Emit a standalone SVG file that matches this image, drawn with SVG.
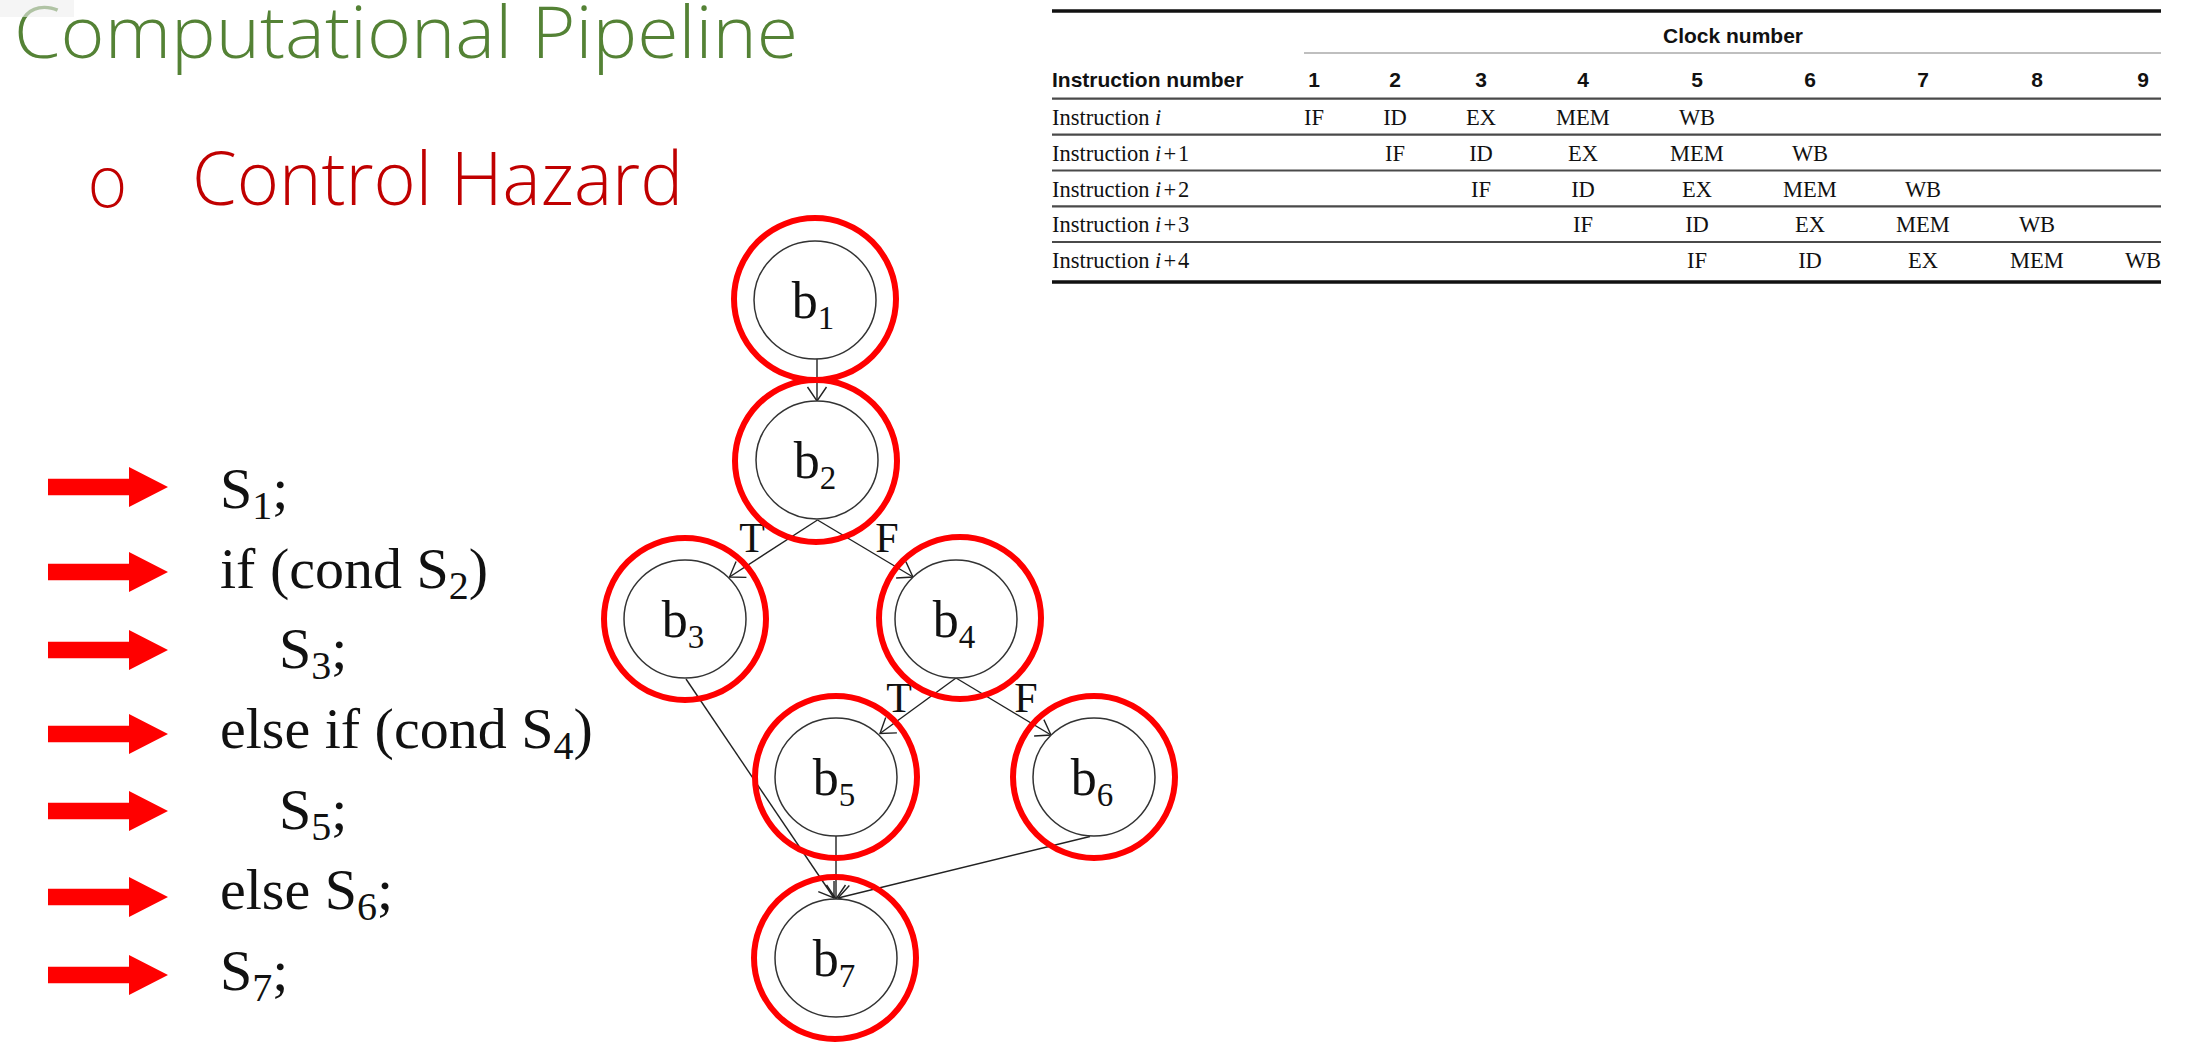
<svg xmlns="http://www.w3.org/2000/svg" width="2196" height="1051" viewBox="0 0 2196 1051">
<style>
.title{font-family:"Open Sans","Liberation Sans",sans-serif;font-weight:300;}
.th{font-family:"Liberation Sans",Arial,sans-serif;font-weight:bold;font-size:21px;fill:#111;}
.td{font-family:"Liberation Serif","Times New Roman",serif;font-size:22.5px;fill:#111;}
.tdc{font-family:"Liberation Serif","Times New Roman",serif;font-size:22.5px;fill:#111;text-anchor:middle;}
.code{font-family:"Liberation Serif","Times New Roman",serif;font-size:58px;fill:#111;}
.sub{font-size:40px;}
.gray{fill:#fff;stroke:#333;stroke-width:1.5;}
.red{fill:none;stroke:#ff0000;stroke-width:6;}
.blab{font-family:"Liberation Serif","Times New Roman",serif;font-size:52px;fill:#111;text-anchor:middle;}
.bsub{font-size:33px;}
.elab{font-family:"Liberation Serif","Times New Roman",serif;font-size:42px;fill:#111;text-anchor:middle;}
.edge{stroke:#222;stroke-width:1.4;fill:none;marker-end:url(#vh);}
.tl{stroke:#4a4a4a;stroke-width:2.2;}
.tk{stroke:#111;stroke-width:3.5;}
</style>
<defs>
<marker id="vh" markerUnits="userSpaceOnUse" markerWidth="17" markerHeight="24" viewBox="0 0 17 24" refX="15" refY="12" orient="auto">
<path d="M1,2.5 L15,12 L1,21.5" fill="none" stroke="#222" stroke-width="1.4"/>
</marker>
<path id="rarrow" d="M48,-8.3 L129,-8.3 L129,-20 L168,0 L129,20 L129,8.3 L48,8.3 Z" fill="#ff0000"/>
</defs>
<rect width="2196" height="1051" fill="#fff"/>

<g id="title">
<text class="title" x="14" y="58" font-size="72" fill="#548235" textLength="784" lengthAdjust="spacingAndGlyphs">Computational Pipeline</text>
<rect x="0" y="0" width="74" height="17" fill="#eeeeee" fill-opacity="0.6"/>
</g>
<g id="subtitle">
<text x="86" y="207" font-family="DejaVu Sans, sans-serif" font-weight="200" font-size="70" fill="#c00000">o</text>
<text class="title" x="192" y="205" font-size="74" fill="#c00000" textLength="491" lengthAdjust="spacingAndGlyphs">Control Hazard</text>
</g>

<g id="table">
<line class="tk" x1="1052" y1="11" x2="2161" y2="11"/>
<text class="th" x="1733" y="43" text-anchor="middle">Clock number</text>
<line x1="1304" y1="53" x2="2161" y2="53" stroke="#aaaaaa" stroke-width="1.5"/>
<text class="th" x="1052" y="87">Instruction number</text>
<g class="th" text-anchor="middle">
<text x="1314" y="87">1</text><text x="1395" y="87">2</text><text x="1481" y="87">3</text><text x="1583" y="87">4</text><text x="1697" y="87">5</text><text x="1810" y="87">6</text><text x="1923" y="87">7</text><text x="2037" y="87">8</text><text x="2143" y="87">9</text>
</g>
<line class="tl" x1="1052" y1="98.7" x2="2161" y2="98.7"/>
<line class="tl" x1="1052" y1="134.7" x2="2161" y2="134.7"/>
<line class="tl" x1="1052" y1="170.5" x2="2161" y2="170.5"/>
<line class="tl" x1="1052" y1="206.3" x2="2161" y2="206.3"/>
<line class="tl" x1="1052" y1="242" x2="2161" y2="242"/>
<line class="tk" x1="1052" y1="282" x2="2161" y2="282"/>
<text class="td" x="1052" y="125">Instruction <tspan font-style="italic">i</tspan></text>
<text class="td" x="1052" y="161">Instruction <tspan font-style="italic">i</tspan><tspan dx="2">+</tspan><tspan dx="2">1</tspan></text>
<text class="td" x="1052" y="197">Instruction <tspan font-style="italic">i</tspan><tspan dx="2">+</tspan><tspan dx="2">2</tspan></text>
<text class="td" x="1052" y="232">Instruction <tspan font-style="italic">i</tspan><tspan dx="2">+</tspan><tspan dx="2">3</tspan></text>
<text class="td" x="1052" y="268">Instruction <tspan font-style="italic">i</tspan><tspan dx="2">+</tspan><tspan dx="2">4</tspan></text>
<g class="tdc">
<text x="1314" y="125">IF</text><text x="1395" y="125">ID</text><text x="1481" y="125">EX</text><text x="1583" y="125">MEM</text><text x="1697" y="125">WB</text>
<text x="1395" y="161">IF</text><text x="1481" y="161">ID</text><text x="1583" y="161">EX</text><text x="1697" y="161">MEM</text><text x="1810" y="161">WB</text>
<text x="1481" y="197">IF</text><text x="1583" y="197">ID</text><text x="1697" y="197">EX</text><text x="1810" y="197">MEM</text><text x="1923" y="197">WB</text>
<text x="1583" y="232">IF</text><text x="1697" y="232">ID</text><text x="1810" y="232">EX</text><text x="1923" y="232">MEM</text><text x="2037" y="232">WB</text>
<text x="1697" y="268">IF</text><text x="1810" y="268">ID</text><text x="1923" y="268">EX</text><text x="2037" y="268">MEM</text><text x="2143" y="268">WB</text>
</g>
</g>

<g id="code">
<use href="#rarrow" y="487"/>
<use href="#rarrow" y="572"/>
<use href="#rarrow" y="650"/>
<use href="#rarrow" y="734"/>
<use href="#rarrow" y="811"/>
<use href="#rarrow" y="897"/>
<use href="#rarrow" y="975"/>
<text class="code" x="220" y="508">S<tspan class="sub" dy="11">1</tspan><tspan dy="-11">;</tspan></text>
<text class="code" x="220" y="588">if (cond S<tspan class="sub" dy="11">2</tspan><tspan dy="-11">)</tspan></text>
<text class="code" x="279" y="668">S<tspan class="sub" dy="11">3</tspan><tspan dy="-11">;</tspan></text>
<text class="code" x="220" y="748">else if (cond S<tspan class="sub" dy="11">4</tspan><tspan dy="-11">)</tspan></text>
<text class="code" x="279" y="829">S<tspan class="sub" dy="11">5</tspan><tspan dy="-11">;</tspan></text>
<text class="code" x="220" y="909">else S<tspan class="sub" dy="11">6</tspan><tspan dy="-11">;</tspan></text>
<text class="code" x="220" y="990">S<tspan class="sub" dy="11">7</tspan><tspan dy="-11">;</tspan></text>
</g>

<g id="connectors">
<line class="edge" x1="817" y1="359" x2="817" y2="401"/>
<line class="edge" x1="817.5" y1="520" x2="729.5" y2="577"/>
<line class="edge" x1="817.5" y1="520" x2="913" y2="577"/>
<line class="edge" x1="686" y1="679" x2="834" y2="898"/>
<line class="edge" x1="956" y1="678" x2="880" y2="733.5"/>
<line class="edge" x1="956" y1="678" x2="1051" y2="735"/>
<line class="edge" x1="836" y1="836" x2="836" y2="899"/>
<line class="edge" x1="1090" y1="836.5" x2="838" y2="898"/>
<text class="elab" x="752" y="552">T</text>
<text class="elab" x="887" y="552">F</text>
<text class="elab" x="899" y="712">T</text>
<text class="elab" x="1026" y="712">F</text>
</g>

<g id="b1">
<ellipse class="gray" cx="815" cy="300" rx="61" ry="59"/>
<text class="blab" x="813" y="318">b<tspan class="bsub" dy="11">1</tspan></text>
<circle class="red" cx="815" cy="299" r="81"/>
</g>
<g id="b2">
<ellipse class="gray" cx="817" cy="460" rx="61" ry="59"/>
<text class="blab" x="815" y="478">b<tspan class="bsub" dy="11">2</tspan></text>
<circle class="red" cx="816" cy="461" r="81"/>
</g>
<g id="b3">
<ellipse class="gray" cx="685" cy="619" rx="61" ry="59"/>
<text class="blab" x="683" y="637">b<tspan class="bsub" dy="11">3</tspan></text>
<circle class="red" cx="685" cy="619" r="81"/>
</g>
<g id="b4">
<ellipse class="gray" cx="956" cy="619" rx="61" ry="59"/>
<text class="blab" x="954" y="637">b<tspan class="bsub" dy="11">4</tspan></text>
<circle class="red" cx="960" cy="618" r="81"/>
</g>
<g id="b5">
<ellipse class="gray" cx="836" cy="777" rx="61" ry="59"/>
<text class="blab" x="834" y="795">b<tspan class="bsub" dy="11">5</tspan></text>
<circle class="red" cx="836" cy="777" r="81"/>
</g>
<g id="b6">
<ellipse class="gray" cx="1094" cy="777" rx="61" ry="59"/>
<text class="blab" x="1092" y="795">b<tspan class="bsub" dy="11">6</tspan></text>
<circle class="red" cx="1094" cy="777" r="81"/>
</g>
<g id="b7">
<ellipse class="gray" cx="836" cy="958" rx="61" ry="59"/>
<text class="blab" x="834" y="976">b<tspan class="bsub" dy="11">7</tspan></text>
<circle class="red" cx="835" cy="958" r="81"/>
</g>
</svg>
